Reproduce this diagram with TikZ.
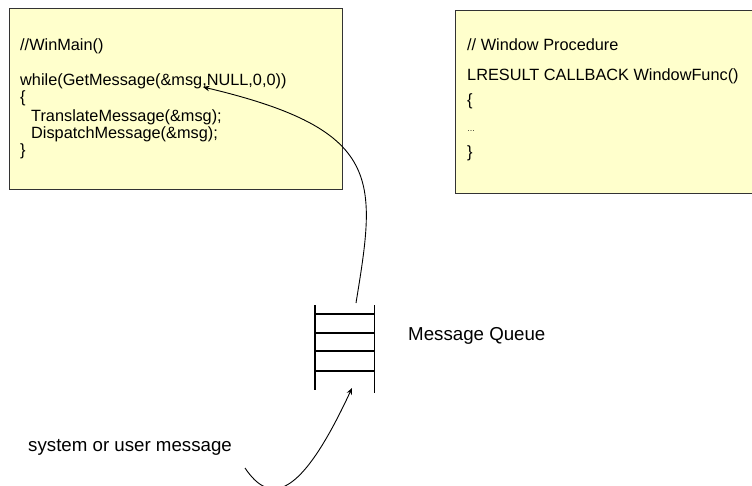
\documentclass[tikz,border=0pt]{standalone}
\usepackage{fontspec}
\setmainfont{Liberation Sans}
\usetikzlibrary{arrows.meta}
\definecolor{boxfill}{HTML}{FFFFCC}
\tikzset{
  codebox/.style={fill=boxfill, draw=black!80, line width=1.2pt},
  code/.style={anchor=base west, inner sep=0pt, font=\fontsize{16.3}{18}\selectfont},
  tiny dots/.style={anchor=base west, inner sep=0pt, font=\fontsize{8}{9}\selectfont},
  label/.style={anchor=base west, inner sep=0pt, font=\fontsize{18.7}{20}\selectfont},
  qline/.style={line width=1.3pt},
  flow/.style={line width=0.9pt, -{Stealth[length=6.5pt,width=5.5pt]}},
}
\begin{document}
\begin{tikzpicture}[x=1pt,y=-1pt]
\clip (0,0) rectangle (752,485);
\fill[white] (0,0) rectangle (752,485);
% boxes
\node[codebox, minimum width=333pt, minimum height=181pt, anchor=north west, inner sep=0pt] (winmain) at (9,8) {};
\node[codebox, minimum width=310pt, minimum height=183pt, anchor=north west, inner sep=0pt] (wndproc) at (455,10) {};
% box 1 text
\node[code] (t1) at (20,50.5) {//WinMain()};
\node[code] (t2) at (20,85.5) {while(GetMessage(\&msg,NULL,0,0))};
\node[code] (t3) at (20,102) {\{};
\node[code] (t4) at (31,121.5) {TranslateMessage(\&msg);};
\node[code] (t5) at (31,138) {DispatchMessage(\&msg);};
\node[code] (t6) at (20,155) {\}};
% box 2 text
\node[code] (u1) at (467,50.5) {// Window Procedure};
\node[code] (u2) at (467,80) {LRESULT CALLBACK WindowFunc()};
\node[code] (u3) at (467,105) {\{};
\node[tiny dots] (u4) at (467,131) {…};
\node[code] (u5) at (467,157) {\}};
% queue
\node[minimum width=59pt, minimum height=85pt, inner sep=0pt, anchor=north west] (queue) at (315,305) {};
\draw[qline] (queue.north west) -- (queue.south west);
\draw[qline] (queue.north east) -- ([yshift=-3pt]queue.south east);
\foreach \yy in {9,28,46,66}{
  \draw[qline] ([yshift=-\yy pt]queue.north west) -- ([yshift=-\yy pt]queue.north east);
}
\node[label] (mq) at (408,340) {Message Queue};
\node[label] (sys) at (28,451.5) {system or user message};
% connectors
\coordinate (qout) at (356,303);
\coordinate (getmsg) at (203,87);
\coordinate (sysend) at (245,468);
\coordinate (qin) at (352,388);
\draw[flow] (qout) .. controls (376,180) and (385,130) .. (getmsg);
\draw[flow] (sysend) .. controls (270,505) and (300,500) .. (qin);
\end{tikzpicture}
\end{document}
